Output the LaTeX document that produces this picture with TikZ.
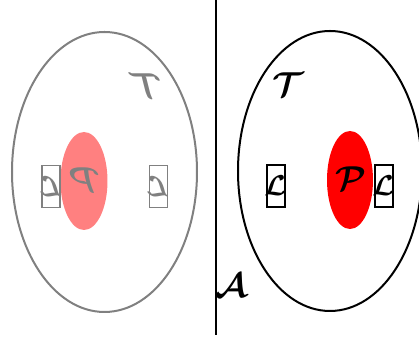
\documentclass[tikz,border=0pt]{standalone}
\usepackage{tikz}
\usetikzlibrary{positioning}
\definecolor{fadered}{HTML}{FF8080}
\newcommand{\lchar}{\makebox[0pt]{$\mathcal{L}$}}

\begin{document}
\begin{tikzpicture}[x=0.5pt,y=-0.5pt,
  outer/.style={line width=1pt},
  lbox/.style={draw,line width=0.7pt,minimum width=9pt,minimum height=21pt,inner sep=0pt,font=\Large\boldmath},
  letter/.style={inner sep=0pt,font=\LARGE\boldmath}]
  \useasboundingbox (0,0) rectangle (419,340);
  % left copy, mirrored and faded
  \draw[outer,black!50] (104.5,172) ellipse (92.5 and 140);
  \fill[fadered] (84,181) ellipse (23.5 and 49);
  \node[letter,text=black!50,xscale=-1] (tl) at (146,86) {$\mathcal{T}$};
  \node[letter,text=black!50,xscale=-1] (pl) at (84,180) {$\mathcal{P}$};
  \node[lbox,draw=black!50,text=black!50,xscale=-1] (la) at (51,186.5) {\lchar};
  \node[lbox,draw=black!50,text=black!50,xscale=-1] (lb) at (158.5,186.5) {\lchar};
  % separator
  \coordinate (top) at (216,0);
  \coordinate (bot) at (216,335);
  \draw[line width=0.5pt] (top) -- (bot);
  \node[letter] (a) at (231,286) {$\mathcal{A}$};
  % right copy
  \draw[outer] (330,171) ellipse (92 and 140);
  \fill[red] (350,180) ellipse (23 and 49);
  \node[letter] (tr) at (288,85) {$\mathcal{T}$};
  \node[letter] (pr) at (351,179) {$\mathcal{P}$};
  \node[lbox] (lc) at (276,186) {\lchar};
  \node[lbox] (ld) at (384,186) {\lchar};
\end{tikzpicture}
\end{document}
